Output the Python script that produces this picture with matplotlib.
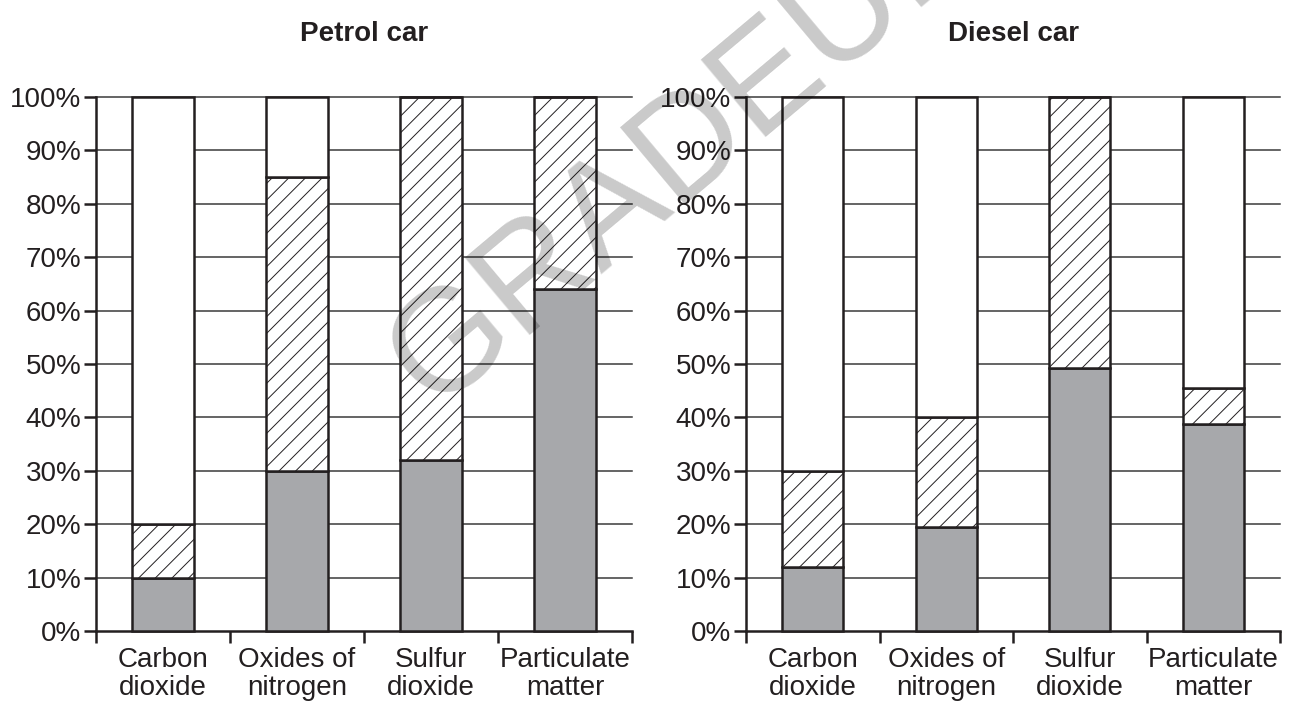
import matplotlib
matplotlib.use("Agg")
import matplotlib.pyplot as plt

plt.rcParams['font.family'] = ['Liberation Sans', 'DejaVu Sans']
plt.rcParams['hatch.linewidth'] = 0.7

categories = ["Carbon\ndioxide", "Oxides of\nnitrogen", "Sulfur\ndioxide", "Particulate\nmatter"]
y_ticks = [0, 10, 20, 30, 40, 50, 60, 70, 80, 90, 100]
y_labels = ["0%", "10%", "20%", "30%", "40%", "50%", "60%", "70%", "80%", "90%", "100%"]

petrol_solid = [10, 30, 32, 64]
petrol_hatched = [10, 55, 68, 36]
petrol_white = [80, 15, 0, 0]

diesel_solid = [12, 19.5, 49.3, 38.7]
diesel_hatched = [18, 20.5, 50.7, 6.8]
diesel_white = [70, 60, 0, 54.5]

titles = ["Petrol car", "Diesel car"]

DARK = "#231f20"
GREY = "#a7a8ab"

fig = plt.figure(figsize=(12.93, 7.11), dpi=100)
ax1 = fig.add_axes([96/1293, 1 - 631/711, 536/1293, 534/711])
ax2 = fig.add_axes([746/1293, 1 - 631/711, 534/1293, 534/711])


def draw(ax, solid, hatched, white, title):
    x = [i + 0.5 for i in range(len(categories))]
    w = 0.46
    lw = 1.8
    b1 = ax.bar(x, solid, width=w, color=GREY, edgecolor=DARK, linewidth=lw, zorder=3)
    bottoms2 = solid
    b2 = ax.bar(x, hatched, width=w, bottom=bottoms2, color="white", edgecolor=DARK,
                linewidth=lw, hatch='//', zorder=3)
    bottoms3 = [s + h for s, h in zip(solid, hatched)]
    b3 = ax.bar(x, white, width=w, bottom=bottoms3, color="white", edgecolor=DARK,
                linewidth=lw, zorder=3)
    for bc in (b1, b2, b3):
        for p in bc.patches:
            p.set_clip_on(False)
    for yv in y_ticks[1:]:
        ax.axhline(yv, color="#3a3a3a", linewidth=1.1, zorder=1, clip_on=False)
    ax.set_xlim(0, len(categories))
    ax.set_ylim(0, 100)
    for s in ("top", "right"):
        ax.spines[s].set_visible(False)
    for s in ("left", "bottom"):
        ax.spines[s].set_linewidth(1.8)
        ax.spines[s].set_color(DARK)
    ax.set_yticks(y_ticks)
    ax.set_yticklabels(y_labels, fontsize=20, color=DARK)
    ax.tick_params(axis='y', length=8.5, width=1.8, color=DARK, pad=2)
    ax.set_xticks(range(len(categories) + 1))
    ax.set_xticklabels([])
    ax.tick_params(axis='x', which='major', length=8.5, width=1.8, color=DARK)
    ax.set_xticks(x, minor=True)
    ax.set_xticklabels(categories, minor=True, fontsize=20, color=DARK, linespacing=1.1)
    ax.tick_params(axis='x', which='minor', length=0, pad=11.5)
    ax.set_title(title, fontsize=20, fontweight='bold', color=DARK, pad=40)


draw(ax1, petrol_solid, petrol_hatched, petrol_white, titles[0])
draw(ax2, diesel_solid, diesel_hatched, diesel_white, titles[1])

fig.text(709/1293, 1 - 178/711, "GRADEUP", rotation=40, fontsize=105, color="black",
         alpha=0.21, ha='center', va='baseline', rotation_mode='anchor', zorder=10)

fig.savefig("out.png", dpi=100)
